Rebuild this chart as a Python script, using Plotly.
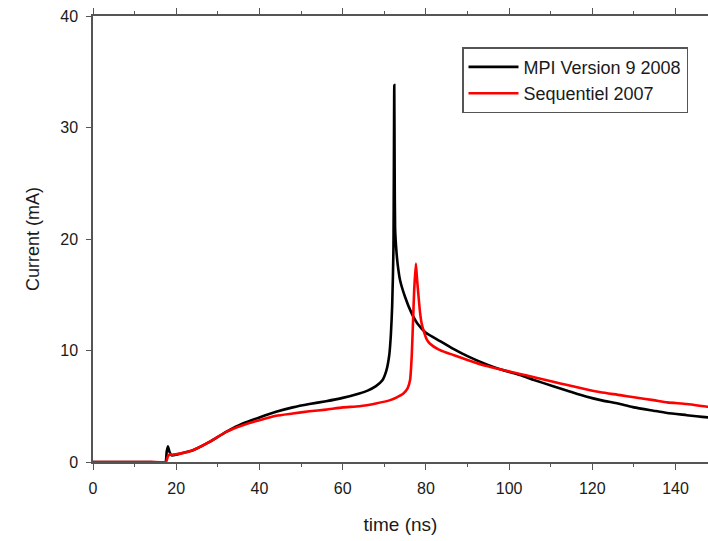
import plotly.graph_objects as go

# Black curve: MPI Version 9 2008
mpi_time = [0, 8, 14, 17.4, 17.7, 18.0, 18.4, 18.9, 20, 21, 24, 28, 32, 36, 40, 44, 48, 52, 56, 60, 64, 66, 68,
            69.5, 70.5, 71.2, 71.6, 71.9, 72.2, 72.4, 72.5, 72.6, 72.9, 73.2, 73.8, 75, 76.5, 78, 80, 83.4, 86.6,
            90, 94.6, 98, 102.6, 106, 110.6, 114, 118.7, 122, 126.7, 130, 134.7, 138, 142.7, 145, 147.8, 150]
mpi_current = [0, 0, 0, 0, 0.9, 1.4, 0.9, 0.6, 0.65, 0.75, 1.05, 1.8, 2.7, 3.45, 4.0, 4.5, 4.9, 5.2, 5.45, 5.75, 6.15, 6.4, 6.8,
               7.3, 8.2, 9.6, 11.5, 14, 19, 33.8, 26, 21, 19, 17.8, 16.3, 14.8, 13.4, 12.4, 11.6, 10.85, 10.15,
               9.5, 8.75, 8.3, 7.8, 7.35, 6.8, 6.4, 5.85, 5.55, 5.2, 4.9, 4.6, 4.4, 4.2, 4.1, 4.0, 3.95]

# Red curve: Sequentiel 2007
seq_time = [0, 8, 14, 17.5, 18.0, 18.5, 19, 20, 21, 24, 28, 32, 36, 40, 44, 48, 52, 56, 60, 64, 68, 71.4, 73, 74.6,
            75.6, 76.2, 76.6, 76.9, 77.2, 77.6, 77.9, 78.2, 78.6, 79.0, 79.6, 80.2, 81, 83, 85, 86.6, 90, 94.6, 98,
            102.6, 106, 110.6, 114, 118.7, 122, 126.7, 130, 134.7, 138, 142.7, 147.8, 150]
seq_current = [0, 0, 0, 0, 0.5, 0.7, 0.65, 0.7, 0.75, 1.05, 1.8, 2.7, 3.3, 3.75, 4.15, 4.35, 4.55, 4.7, 4.9, 5.0, 5.25, 5.55, 5.8, 6.15,
               6.6, 7.35, 9.5, 12.5, 15.5, 17.8, 16.3, 15.0, 13.4, 12.4, 11.6, 11.0, 10.6, 10.1, 9.8, 9.6, 9.15, 8.6, 8.3,
               7.9, 7.6, 7.2, 6.9, 6.5, 6.25, 6.0, 5.8, 5.55, 5.35, 5.2, 4.95, 4.85]

x_title = "time (ns)"
y_title = "Current (mA)"

FONT = "Arial, Liberation Sans, Helvetica, sans-serif"
AX = "#555555"

fig = go.Figure()
fig.add_trace(go.Scatter(x=mpi_time, y=mpi_current, mode="lines", name="MPI Version 9 2008",
                         line=dict(color="black", width=2.6, shape="spline", smoothing=0.5)))
fig.add_trace(go.Scatter(x=seq_time, y=seq_current, mode="lines", name="Sequentiel 2007",
                         line=dict(color="#ff0000", width=2.6, shape="spline", smoothing=0.5)))

fig.update_layout(
    width=708, height=541,
    margin=dict(l=93, r=0, t=16, b=79, autoexpand=False),
    paper_bgcolor="white", plot_bgcolor="white",
    font=dict(family=FONT, color="#1a1a1a", size=16),
    showlegend=True,
    legend=dict(x=0.6, y=0.93, xanchor="left", yanchor="top",
                bgcolor="white", bordercolor=AX, borderwidth=1.5,
                font=dict(size=18, family=FONT, color="#1a1a1a"),
                itemwidth=50, tracegroupgap=0),
    xaxis=dict(range=[0, 147.8], dtick=20, tick0=0, ticks="outside", ticklen=6, tickwidth=1.3,
               tickcolor=AX, showline=True, linecolor=AX, linewidth=1.5, mirror="ticks",
               showgrid=False, zeroline=False, automargin=False, ticklabelstandoff=5,
               ticklabeloverflow="allow",
               minor=dict(dtick=10, ticks="outside", ticklen=3, tickcolor=AX, tickwidth=1.3),
               title=dict(text=x_title, font=dict(size=19), standoff=22),
               tickfont=dict(size=16)),
    yaxis=dict(range=[0, 40], dtick=10, ticks="outside", ticklen=5, tickwidth=1.3,
               tickcolor=AX, showline=True, linecolor=AX, linewidth=1.5,
               showgrid=False, zeroline=False, automargin=False, ticklabelstandoff=5,
               ticklabeloverflow="allow",
               title=dict(text=y_title, font=dict(size=18), standoff=16),
               tickfont=dict(size=16)),
)

fig.write_html("out.html", config={"displayModeBar": False},
               post_script="document.body.style.margin='0';document.body.style.overflow='hidden';")
